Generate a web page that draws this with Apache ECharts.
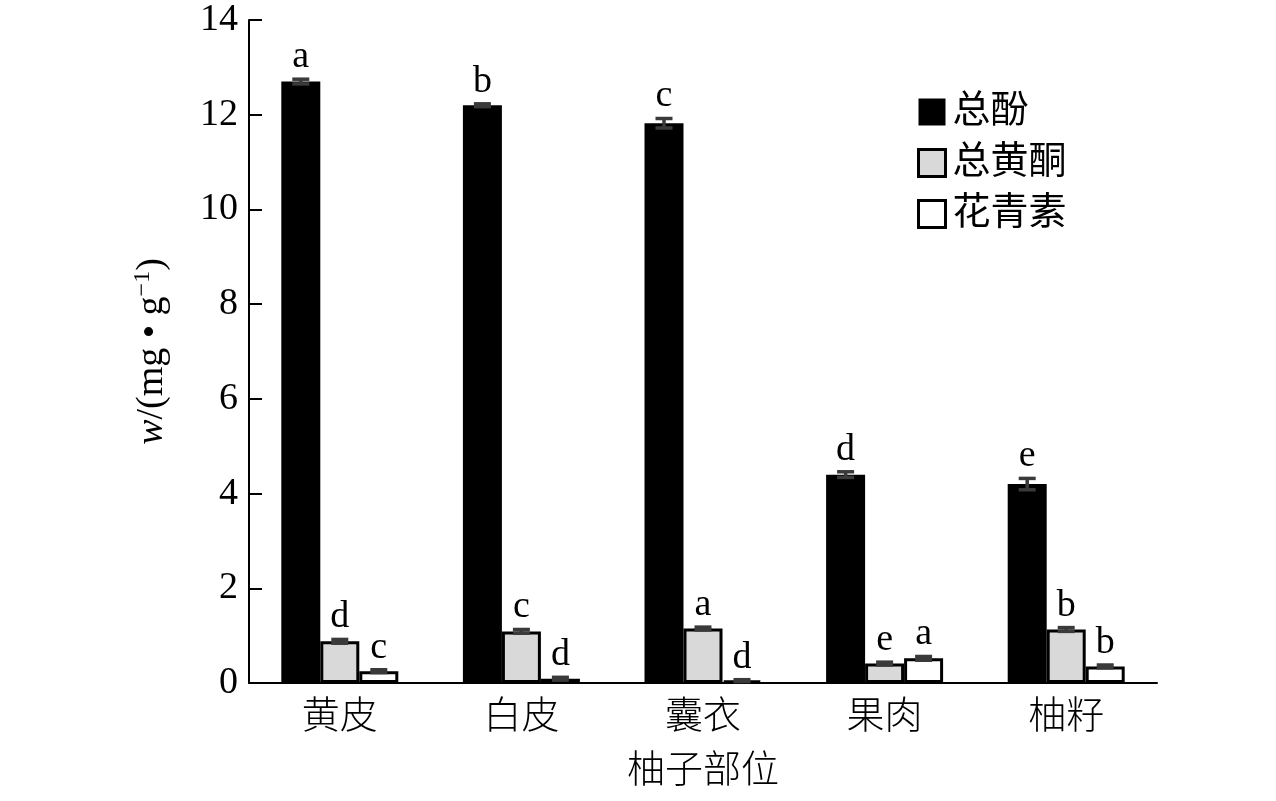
<!DOCTYPE html>
<html>
<head>
<meta charset="utf-8">
<script src="https://cdn.jsdelivr.net/npm/echarts@6/dist/echarts.min.js"></script>
<style>
html,body{margin:0;padding:0;background:#fff;}
#main{width:1276px;height:801px;}
</style>
</head>
<body>
<div id="main"></div>
<script>
// 柚子各部位的总酚、总黄酮、花青素含量
var categories = ['黄皮', '白皮', '囊衣', '果肉', '柚籽'];
var seriesNames = ['总酚', '总黄酮', '花青素'];
var phenol = [12.7, 12.2, 11.82, 4.4, 4.2];
var phenolErr = [0.05, 0.03, 0.1, 0.06, 0.12];
var phenolSig = ['a', 'b', 'c', 'd', 'e'];
var flavone = [0.88, 1.09, 1.15, 0.41, 1.13];
var flavoneErr = [0.04, 0.04, 0.03, 0.03, 0.04];
var flavoneSig = ['d', 'c', 'a', 'e', 'b'];
var antho = [0.25, 0.09, 0.05, 0.52, 0.35];
var anthoErr = [0.03, 0.03, 0.02, 0.04, 0.03];
var anthoSig = ['c', 'd', 'd', 'a', 'b'];
var yTicks = [0, 2, 4, 6, 8, 10, 12, 14];

var serif = "'Liberation Serif', 'Noto Sans CJK SC', serif";
var barW = 39;
var fills = ['#000000', '#d9d9d9', '#ffffff'];
var values = [phenol, flavone, antho];
var errs = [phenolErr, flavoneErr, anthoErr];
var sigs = [phenolSig, flavoneSig, anthoSig];

var myChart = echarts.init(document.getElementById('main'));

function errSeries(k) {
    var data = values[k].map(function (v, i) { return [i, v, errs[k][i], sigs[k][i]]; });
    return {
        type: 'custom',
        name: seriesNames[k] + '误差',
        z: 10,
        silent: true,
        data: data,
        renderItem: function (params, api) {
            var c = api.coord([api.value(0), api.value(1)]);
            var x = c[0] + (k - 1) * barW;
            var top = api.coord([api.value(0), api.value(1) + api.value(2)])[1];
            var bot = api.coord([api.value(0), Math.max(api.value(1) - api.value(2), 0)])[1];
            var hw = 8.5;
            var st = { stroke: '#3a3a3a', lineWidth: 3.5 };
            return {
                type: 'group',
                children: [
                    { type: 'line', shape: { x1: x, y1: top, x2: x, y2: bot }, style: st },
                    { type: 'line', shape: { x1: x - hw, y1: top, x2: x + hw, y2: top }, style: st },
                    { type: 'line', shape: { x1: x - hw, y1: bot, x2: x + hw, y2: bot }, style: st },
                    {
                        type: 'text',
                        x: x, y: top - 3,
                        style: {
                            text: api.value(3),
                            fontFamily: serif, fontSize: 38,
                            fill: '#000', align: 'center', verticalAlign: 'bottom'
                        }
                    }
                ]
            };
        }
    };
}

var series = [];
for (var k = 0; k < 3; k++) {
    series.push({
        name: seriesNames[k],
        type: 'bar',
        barWidth: barW,
        barGap: '0%',
        data: values[k],
        itemStyle: {
            color: fills[k],
            borderColor: '#000',
            borderWidth: k === 0 ? 0 : 3
        }
    });
}
for (k = 0; k < 3; k++) series.push(errSeries(k));

myChart.setOption({
    backgroundColor: '#fff',
    animation: false,
    grid: { left: 249, right: 119, top: 20, bottom: 118 },
    legend: {
        orient: 'vertical',
        left: 912,
        top: 88,
        itemWidth: 27,
        itemHeight: 27,
        itemGap: 13,
        icon: 'rect',
        textStyle: { fontFamily: serif, fontSize: 38, color: '#000', lineHeight: 38, padding: [0, 0, 0, 2] },
        data: [
            { name: '总酚', itemStyle: { color: '#000', borderColor: '#000', borderWidth: 0 } },
            { name: '总黄酮', itemStyle: { color: '#d9d9d9', borderColor: '#000', borderWidth: 3 } },
            { name: '花青素', itemStyle: { color: '#fff', borderColor: '#000', borderWidth: 3 } }
        ]
    },
    xAxis: {
        type: 'category',
        data: categories,
        name: '柚子部位',
        nameLocation: 'middle',
        nameGap: 70,
        nameTextStyle: { fontFamily: serif, fontSize: 38, color: '#000', fontWeight: 300 },
        axisLine: { lineStyle: { color: '#000', width: 2 } },
        axisTick: { show: false },
        axisLabel: { fontFamily: serif, fontSize: 38, color: '#000', margin: 16, fontWeight: 300 }
    },
    yAxis: {
        type: 'value',
        min: yTicks[0],
        max: yTicks[yTicks.length - 1],
        interval: 2,
        name: '{i|w}/(mg • g{s|−1})',
        nameLocation: 'middle',
        nameGap: 76,
        nameRotate: 90,
        nameTextStyle: {
            fontFamily: serif, fontSize: 38, color: '#000',
            rich: {
                i: { fontFamily: serif, fontSize: 38, fontStyle: 'italic', color: '#000' },
                s: { fontFamily: serif, fontSize: 24, color: '#000', verticalAlign: 'top', padding: [0, 0, 18, 0] }
            }
        },
        axisLine: { show: true, lineStyle: { color: '#000', width: 2 } },
        axisTick: { show: true, inside: true, length: 13, lineStyle: { color: '#000', width: 2 } },
        splitLine: { show: false },
        axisLabel: { fontFamily: serif, fontSize: 38, color: '#000', margin: 11 }
    },
    series: series
});
window.onresize = myChart.resize;
</script>
</body>
</html>
